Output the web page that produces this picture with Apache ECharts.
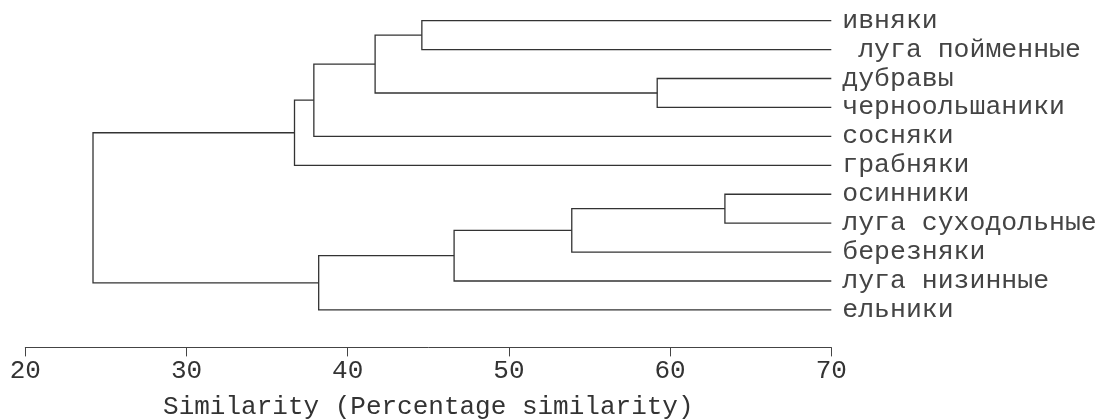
<!DOCTYPE html>
<html>
<head>
<meta charset="utf-8">
<script src="https://cdn.jsdelivr.net/npm/echarts@6/dist/echarts.min.js"></script>
<style>
  html, body { margin: 0; padding: 0; background: #fff; }
  #chart { width: 1105px; height: 419px; }
</style>
</head>
<body>
<div id="chart"></div>
<script>
// leaves, top to bottom
const leafNames = ['ивняки', ' луга пойменные', 'дубравы', 'черноольшаники', 'сосняки', 'грабняки',
                   'осинники', 'луга суходольные', 'березняки', 'луга низинные', 'ельники'];
// merges: node ids 0..10 are leaves, merge k creates node 11+k
const mergeA = [0, 2, 11, 13, 14, 6, 16, 17, 18, 15];
const mergeB = [1, 3, 12, 4, 5, 7, 8, 9, 10, 19];
const mergeSim = [44.6, 59.2, 41.7, 37.9, 36.7, 63.4, 53.9, 46.6, 38.2, 24.2];
const xTicks = [20, 30, 40, 50, 60, 70];

const leafSim = 70; // leaves sit at the right end of the axis

// node positions (x = similarity, y = leaf index / mean of children)
const nodeX = leafNames.map(() => leafSim);
const nodeY = leafNames.map((n, i) => i);
const segData = [];
for (let k = 0; k < mergeSim.length; k++) {
  const a = mergeA[k], b = mergeB[k], s = mergeSim[k];
  segData.push([s, nodeX[a], nodeY[a], nodeX[b], nodeY[b]]);
  nodeX.push(s);
  nodeY.push((nodeY[a] + nodeY[b]) / 2);
}

const mono = '"Liberation Mono", "DejaVu Sans Mono", monospace';
const chart = echarts.init(document.getElementById('chart'));

chart.setOption({
  backgroundColor: '#fff',
  animation: false,
  grid: { left: 25.3, top: 6.2, width: 806, height: 318.2, outerBoundsMode: 'none', containLabel: false },
  xAxis: {
    type: 'value',
    min: xTicks[0],
    max: xTicks[xTicks.length - 1],
    interval: 10,
    offset: 23,
    splitLine: { show: false },
    axisLine: { show: true, onZero: false, lineStyle: { color: '#444', width: 1 } },
    axisTick: { show: true, length: 9, lineStyle: { color: '#444' } },
    axisLabel: { color: '#333', fontFamily: mono, fontSize: 26, margin: 11 },
    name: 'Similarity (Percentage similarity)',
    nameLocation: 'middle',
    nameGap: 47,
    nameTextStyle: { color: '#333', fontFamily: mono, fontSize: 26 }
  },
  yAxis: [
    {
      type: 'value',
      min: -0.5,
      max: leafNames.length - 0.5,
      inverse: true,
      show: false
    },
    {
      type: 'category',
      data: leafNames,
      position: 'right',
      inverse: true,
      axisLine: { show: false },
      axisTick: { show: false },
      splitLine: { show: false },
      axisLabel: { color: '#444', fontFamily: mono, fontSize: 26.5, margin: 11, interval: 0 }
    }
  ],
  series: [{
    type: 'custom',
    xAxisIndex: 0,
    yAxisIndex: 0,
    data: segData,
    encode: { x: [0, 1, 3], y: [2, 4] },
    renderItem: function (params, api) {
      const s = api.value(0);
      const p1 = api.coord([api.value(1), api.value(2)]);
      const p2 = api.coord([s, api.value(2)]);
      const p3 = api.coord([s, api.value(4)]);
      const p4 = api.coord([api.value(3), api.value(4)]);
      return {
        type: 'polyline',
        shape: { points: [p1, p2, p3, p4] },
        style: { fill: null, stroke: '#333', lineWidth: 1.3 }
      };
    }
  }]
});
</script>
</body>
</html>
